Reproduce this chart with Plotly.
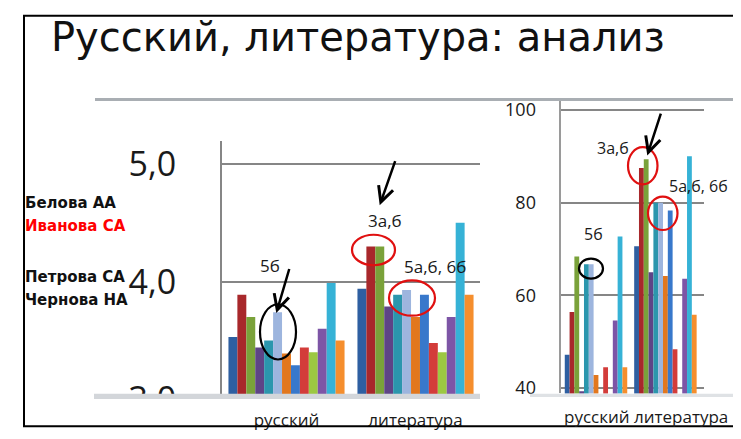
import plotly.graph_objects as go

W, H = 741, 439

# ---------------- data ----------------
subjects = ["русский", "литература"]
series_names = ["Ряд 1", "Ряд 2", "Ряд 3", "Ряд 4", "Ряд 5", "Ряд 6", "Ряд 7",
                "Ряд 8", "Ряд 9", "Ряд 10", "Ряд 11", "Ряд 12", "Ряд 13"]
colors = ["#2E5FA1", "#A8282B", "#7AA23A", "#5E4487", "#2B96AD", "#9DB5DE", "#E2771E",
          "#3878CB", "#D33C3A", "#9CC842", "#7D55A6", "#36B2D6", "#F58E2D"]

# left chart: average mark (scale 3,0 .. 5,0)
left_russian = [3.53, 3.89, 3.70, 3.44, 3.50, 3.74, 3.39, 3.29, 3.44, 3.40, 3.60, 3.99, 3.50]
left_literature = [3.94, 4.30, 4.30, 3.79, 3.89, 3.93, 3.70, 3.89, 3.48, 3.40, 3.70, 4.50, 3.89]

# right chart: percent
right_russian = [47.2, 56.4, 68.4, 39.3, 66.7, 66.7, 42.8, 36.0, 44.5, 36.0, 54.6, 72.7, 44.5]
right_literature = [70.6, 87.5, 89.4, 65.0, 80.0, 80.0, 64.2, 78.3, 48.4, 36.0, 63.6, 90.0, 55.8]

left_ticks = [3, 4, 5]
left_ticktext = ["3,0", "4,0", "5,0"]
right_ticks = [40, 60, 80, 100]
right_ticktext = ["40", "60", "80", "100"]

students = ["Белова АА", "Иванова СА", "Петрова СА", "Чернова НА"]
student_colors = ["#111111", "#FF0000", "#111111", "#111111"]
title_text = "Русский, литература: анализ"
marks = ["5б", "3а,б", "5а,б, 6б"]

FONT = "Open Sans"


def px(x):
    return x / W


def py(y):
    return 1 - y / H


fig = go.Figure()
for i in range(len(series_names)):
    fig.add_trace(go.Bar(x=subjects, y=[left_russian[i], left_literature[i]],
                         name=series_names[i], marker=dict(color=colors[i], line=dict(width=0)),
                         xaxis="x", yaxis="y", showlegend=False))
for i in range(len(series_names)):
    fig.add_trace(go.Bar(x=subjects, y=[right_russian[i], right_literature[i]],
                         name=series_names[i], marker=dict(color=colors[i], line=dict(width=0)),
                         xaxis="x2", yaxis="y2", showlegend=False))

# left axis geometry: 4,0 at y=284.3, 1.0 = 123.6 px
l_bot, l_top = 412.0, 137.0
l_range = [4.0 - (l_bot - 284.3) / 123.6, 5.0 + (160.7 - l_top) / 123.6]
# right axis geometry: 40 at y=396, 20 = 97.3 px
r_bot, r_top = 401.7, 94.0
r_range = [40 - (r_bot - 396) / 4.867, 100 + (104 - r_top) / 4.867]

grid_c = "#868686"

fig.update_layout(
    width=W, height=H, margin=dict(l=0, r=0, t=0, b=0),
    paper_bgcolor="white", plot_bgcolor="white",
    barmode="group", bargap=0.1, bargroupgap=0,
    font=dict(family=FONT, color="#1a1a1a"),
    xaxis=dict(domain=[px(214), px(472)], anchor="y", type="category",
               showgrid=False, zeroline=False, showline=False, ticks="",
               tickfont=dict(size=17, color="#1a1a1a"), ticklabelstandoff=5),
    yaxis=dict(domain=[py(l_bot), py(l_top)], anchor="x", range=l_range,
               tickmode="array", tickvals=left_ticks, ticktext=left_ticktext,
               showgrid=True, gridcolor=grid_c, gridwidth=2, zeroline=False,
               showline=True, linecolor=grid_c, linewidth=2, ticks="",
               tickfont=dict(size=34, color="#1a1a1a"), ticklabelstandoff=37),
    xaxis2=dict(domain=[px(553.3), px(696)], anchor="y2", type="category",
                range=[-0.5, 1.556], showgrid=False, zeroline=False,
                showline=False, ticks="", showticklabels=False),
    yaxis2=dict(domain=[py(r_bot), py(r_top)], anchor="x2", range=r_range,
                tickmode="array", tickvals=right_ticks, ticktext=right_ticktext,
                showgrid=True, gridcolor=grid_c, gridwidth=1.5, zeroline=False,
                showline=True, linecolor="#9a9a9a", linewidth=1.5, ticks="",
                tickfont=dict(size=18, color="#1a1a1a"), ticklabelstandoff=20),
)

shapes = [
    # outer frame
    dict(type="rect", xref="paper", yref="paper", x0=px(16), x1=px(732), y0=py(436), y1=py(5),
         line=dict(color="black", width=2), layer="above"),
    # top grey rule
    dict(type="line", xref="paper", yref="paper", x0=px(87), x1=px(727), y0=py(93), y1=py(93),
         line=dict(color="#a9aeb3", width=3), layer="above"),
    # bottom band left
    dict(type="rect", xref="paper", yref="paper", x0=px(86), x1=px(472), y0=py(407.5), y1=py(402),
         fillcolor="#d3d6da", line=dict(width=0), layer="above"),
    dict(type="rect", xref="paper", yref="paper", x0=px(86), x1=px(473), y0=py(413), y1=py(407.5),
         fillcolor="white", line=dict(width=0), layer="above"),
    dict(type="rect", xref="paper", yref="paper", x0=px(86), x1=px(212), y0=py(433), y1=py(407.5),
         fillcolor="white", line=dict(width=0), layer="above"),
    # bottom band right
    dict(type="rect", xref="paper", yref="paper", x0=px(522), x1=px(727), y0=py(405.5), y1=py(402),
         fillcolor="#dfe2e5", line=dict(width=0), layer="above"),
    # ellipses
    dict(type="circle", xref="paper", yref="paper", x0=px(252), x1=px(288), y0=py(366), y1=py(308),
         line=dict(color="black", width=2.2), layer="above"),
    dict(type="circle", xref="paper", yref="paper", x0=px(344), x1=px(387), y0=py(267), y1=py(235),
         line=dict(color="#E01010", width=2.2), layer="above"),
    dict(type="circle", xref="paper", yref="paper", x0=px(381), x1=px(427), y0=py(320), y1=py(283),
         line=dict(color="#E01010", width=2.2), layer="above"),
    dict(type="circle", xref="paper", yref="paper", x0=px(571), x1=px(595), y0=py(281), y1=py(260),
         line=dict(color="black", width=2.2), layer="above"),
    dict(type="circle", xref="paper", yref="paper", x0=px(620), x1=px(649.5), y0=py(182), y1=py(143),
         line=dict(color="#E01010", width=2.2), layer="above"),
    dict(type="circle", xref="paper", yref="paper", x0=px(640), x1=px(669.5), y0=py(230), y1=py(195),
         line=dict(color="#E01010", width=2.2), layer="above"),
]
fig.update_layout(shapes=shapes)

ann = []
# title
ann.append(dict(text=title_text, xref="paper", yref="paper", x=px(41), y=py(27),
                xanchor="left", yanchor="middle", showarrow=False, align="left",
                font=dict(family="DejaVu Sans", size=40, color="#111111")))
# student names
for name, c, yy in zip(students, student_colors, [201.7, 226, 279, 303]):
    ann.append(dict(text=name, xref="paper", yref="paper", x=px(15), y=py(yy),
                    xanchor="left", yanchor="middle", showarrow=False, align="left",
                    font=dict(family="DejaVu Sans", size=15, color=c, weight="bold")))
# right chart category labels
ann.append(dict(text=" ".join(subjects), xref="paper", yref="paper", x=px(638), y=py(426),
                xanchor="center", yanchor="middle", showarrow=False,
                font=dict(family=FONT, size=17, color="#1a1a1a")))
# class marks
for t, x, y, s in [(marks[0], 262, 267, 17), (marks[1], 377, 220, 17), (marks[2], 427, 268, 17),
                   (marks[0], 585, 234, 16), (marks[1], 605, 143.5, 16), (marks[2], 690, 183.5, 16)]:
    ann.append(dict(text=t, xref="paper", yref="paper", x=px(x), y=py(y),
                    xanchor="center", yanchor="middle", showarrow=False,
                    font=dict(family=FONT, size=s, color="#1a1a1a")))
# arrows
for (hx, hy, tx, ty) in [(268.3, 317.3, 281.7, 271.7), (371.7, 204, 387.7, 158.3), (639.3, 151.7, 653.3, 108.3)]:
    ann.append(dict(text="", xref="paper", yref="paper", x=px(hx), y=py(hy),
                    ax=tx - hx, ay=ty - hy, showarrow=True, arrowhead=5, arrowsize=1.2,
                    arrowwidth=2.5, arrowcolor="black"))
fig.update_layout(annotations=ann)

fig.write_html("out.html")
